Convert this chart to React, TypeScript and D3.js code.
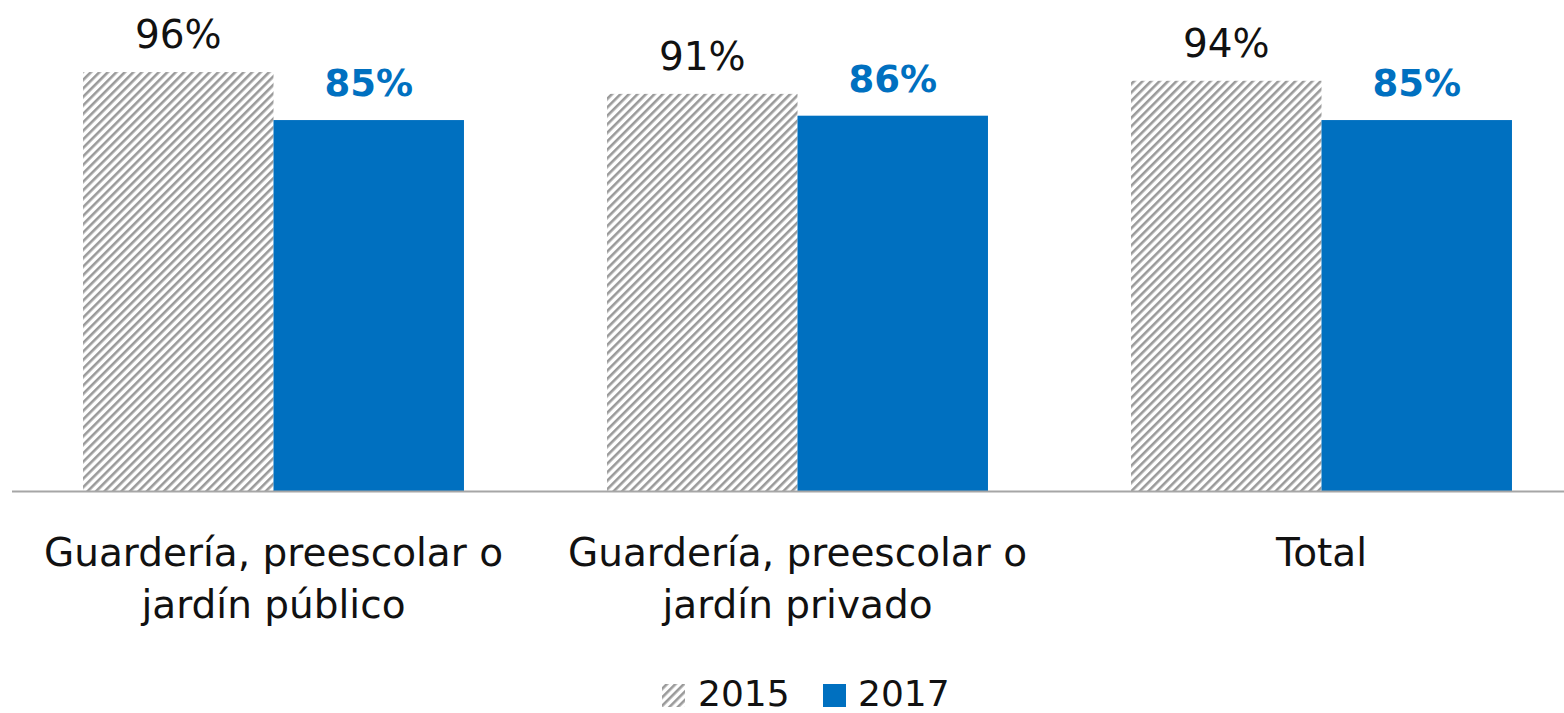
import React from "react";
import * as d3 from "d3";

const categories: string[][] = [
  ["Guardería, preescolar o", "jardín público"],
  ["Guardería, preescolar o", "jardín privado"],
  ["Total"],
];
const series = ["2015", "2017"];
const values2015 = [96, 91, 94];
const values2017 = [85, 86, 85];

const W = 1564;
const H = 713;
const FONT = "'DejaVu Sans', Verdana, sans-serif";
const BLUE = "#0070C0";

export default function App() {
  const x0 = d3
    .scaleBand<number>()
    .domain(d3.range(categories.length))
    .range([11.5, 1583.5])
    .paddingInner(0.273)
    .paddingOuter(0.1365);
  const x1 = d3.scaleBand<string>().domain(series).range([0, x0.bandwidth()]);
  const y = d3.scaleLinear().domain([0, 100]).range([491, 54.6]);

  return (
    <svg
      width={W}
      height={H}
      style={{ position: "absolute", left: 0, top: 0, background: "#fff" }}
      fontFamily={FONT}
    >
      <defs>
        <pattern id="hatch" patternUnits="userSpaceOnUse" width="6" height="6" patternTransform="rotate(45)">
          <rect width="6" height="6" fill="#fff" />
          <rect x="0" y="0" width="2.6" height="6" fill="#9a9a9a" />
        </pattern>
      </defs>
      {categories.map((_, i) => {
        const gx = x0(i)!;
        const v15 = values2015[i];
        const v17 = values2017[i];
        const xa = gx + x1("2015")!;
        const xb = gx + x1("2017")!;
        const bw = x1.bandwidth();
        return (
          <g key={i}>
            <rect x={xa} y={y(v15)} width={bw} height={y(0) - y(v15)} fill="url(#hatch)" />
            <rect x={xb} y={y(v17)} width={bw} height={y(0) - y(v17)} fill={BLUE} />
            <text x={xa + bw / 2} y={y(v15) - 24} textAnchor="middle" fontSize={39} fill="#111">
              {v15}%
            </text>
            <text x={xb + bw / 2} y={y(v17) - 24} textAnchor="middle" fontSize={37} fontWeight="bold" fill={BLUE}>
              {v17}%
            </text>
          </g>
        );
      })}
      <line x1={12} x2={W} y1={y(0) + 0.5} y2={y(0) + 0.5} stroke="#a6a6a6" strokeWidth={2} />
      {categories.map((lines, i) => {
        const cx = x0(i)! + x0.bandwidth() / 2;
        return (
          <text key={i} textAnchor="middle" fontSize={39} fill="#111">
            {lines.map((l, j) => (
              <tspan key={j} x={cx} y={566 + j * 52}>
                {l}
              </tspan>
            ))}
          </text>
        );
      })}
      <g>
        <rect x={662} y={684} width={23} height={23} fill="url(#hatch)" />
        <text x={698} y={706} fontSize={36} fill="#111">
          {series[0]}
        </text>
        <rect x={823} y={684} width={23} height={23} fill={BLUE} />
        <text x={858} y={706} fontSize={36} fill="#111">
          {series[1]}
        </text>
      </g>
    </svg>
  );
}
